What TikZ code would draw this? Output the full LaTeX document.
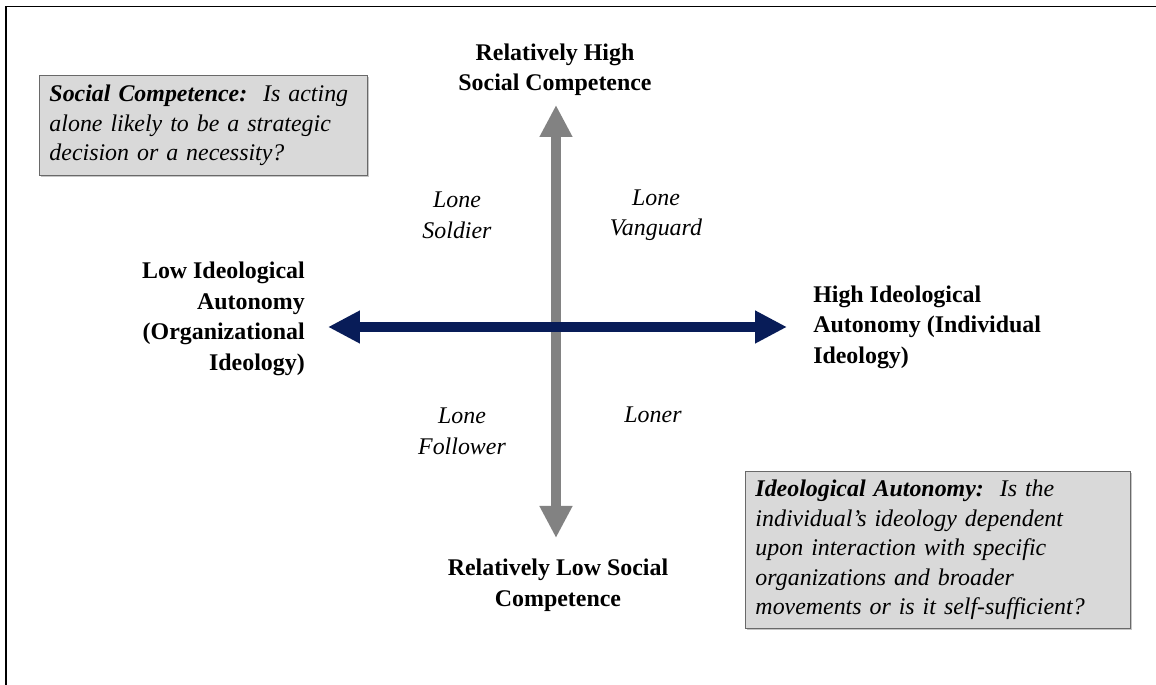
\documentclass[tikz,border=0pt]{standalone}
\usepackage{fontspec}
\setmainfont{Liberation Serif}
\usetikzlibrary{calc,arrows.meta,shadows}

\definecolor{axisNavy}{RGB}{8,28,88}
\definecolor{axisGray}{RGB}{130,130,130}
\definecolor{boxFill}{RGB}{217,217,217}
\definecolor{boxDraw}{RGB}{105,105,105}

\begin{document}
\begin{tikzpicture}[transform shape, scale=1]

\pgfmathsetlengthmacro{\shaft}{0.26cm}
\pgfmathsetlengthmacro{\headLength}{0.8cm}
\pgfmathsetlengthmacro{\headWidth}{0.77cm}
\pgfmathsetlengthmacro{\boxPad}{0.25cm}
\tikzset{
  axislabel/.style={inner sep=0pt, font=\fontsize{17}{21.7}\selectfont\bfseries},
  quadrant/.style={inner sep=0pt, align=center, font=\fontsize{17}{21.5}\selectfont\itshape},
  question/.style={draw=boxDraw, fill=boxFill, line width=0.7pt, inner xsep=\boxPad, inner ysep=0pt, align=left, anchor=north west,
    font=\fontsize{17}{21}\selectfont\itshape, drop shadow={shadow xshift=1.3pt, shadow yshift=-1.3pt, opacity=0.45}},
  axisarrow/.style={line width=\shaft, {Triangle[length=\headLength, width=\headWidth]}-{Triangle[length=\headLength, width=\headWidth]}},
}

\useasboundingbox (-13.9,-8.95) rectangle (15,8.175);
\draw[line width=1.4pt] (-13.74,-8.95) |- (15,8.0125);

% axis ends
\coordinate (scHigh) at (0,5.55);
\coordinate (scLow) at (0,-5.275);
\coordinate (iaLow) at (-5.7,0);
\coordinate (iaHigh) at (5.775,0);

\draw[axisarrow, draw=axisGray, fill=axisGray] (scLow) -- (scHigh);
\draw[axisarrow, draw=axisNavy, fill=axisNavy] (iaLow) -- (iaHigh);

% axis labels
\node[axislabel, align=center, name=highSC] at ($(scHigh)+(-0.025,0.875)$) {Relatively High\\Social Competence};
\node[axislabel, align=center, name=lowSC] at ($(scLow)+(0.05,-1.175)$) {Relatively Low Social\\Competence};
\node[axislabel, align=right, anchor=east, name=lowIA] at ($(iaLow)+(-0.575,0.2)$) {Low Ideological\\Autonomy\\(Organizational\\Ideology)};
\node[axislabel, align=left, anchor=west, name=highIA] at ($(iaHigh)+(0.65,0)$) {High Ideological\\Autonomy (Individual\\Ideology)};

% quadrants
\node[quadrant, name=soldier] at (-2.475,2.79) {Lone\\Soldier};
\node[quadrant, name=vanguard] at (2.5,2.79) {Lone\\Vanguard};
\node[quadrant, name=follower] at (-2.35,-2.61) {Lone\\Follower};
\node[quadrant, anchor=base, name=loner] at (2.425,-2.4) {Loner};

% questions
\node[question, text width=7.7cm, minimum height=2.5cm, name=scBox] at (-12.925,6.3)
  {\textbf{Social Competence:}\ \ Is acting\\alone likely to be a strategic\\decision or a necessity?};
\node[question, text width=9.125cm, minimum height=3.925cm, name=iaBox] at (4.725,-3.6)
  {\textbf{Ideological Autonomy:}\ \ Is the\\individual’s ideology dependent\\upon interaction with specific\\organizations and broader\\movements or is it self-sufficient?};

\end{tikzpicture}
\end{document}
